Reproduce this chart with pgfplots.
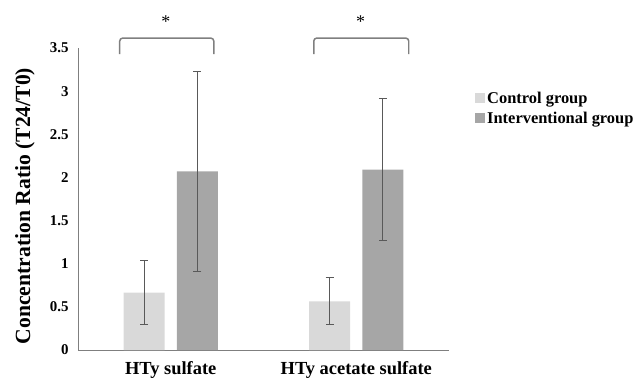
\documentclass[border=0pt]{standalone}
\usepackage{fontspec}
\setmainfont{Liberation Serif}
\usepackage{pgfplots}
\pgfplotsset{compat=1.18}
\definecolor{ctrl}{HTML}{D9D9D9}
\definecolor{intv}{HTML}{A6A6A6}
\definecolor{axisgray}{HTML}{7F7F7F}
\definecolor{errgray}{HTML}{595959}
\begin{document}
\begin{tikzpicture}
\path[use as bounding box] (0,0) rectangle (638bp,381bp);
\begin{axis}[
  at={(78bp,31bp)}, anchor=south west,
  scale only axis, width=371bp, height=302bp,
  xmin=-0.5, xmax=1.5, ymin=0, ymax=3.5,
  axis x line*=bottom, axis y line*=left,
  axis line style={axisgray, line width=1pt},
  axis line style={-},
  xtick={0,1}, xticklabels={HTy sulfate, HTy acetate sulfate},
  ytick={0,0.5,...,3.5},
  major tick length=0pt,
  /pgf/number format/assume math mode=true,
  yticklabel style={font=\fontsize{15}{15}\selectfont\bfseries, xshift=-6bp},
  xticklabel style={font=\fontsize{18.5}{18.5}\selectfont\bfseries, yshift=-8bp},
  ylabel={Concentration Ratio (T24/T0)},
  ylabel style={font=\fontsize{21.7}{21.7}\selectfont\bfseries, at={(axis description cs:-0.143,0.477)}, anchor=center},
  clip=false,
  legend style={at={(axis description cs:1.0701,0.862)}, anchor=north west, draw=none, fill=none, inner sep=0pt,
    font=\fontsize{16.5}{16.5}\selectfont\bfseries, row sep=3bp,
    legend cell align=left},
  legend image code/.code={\fill[#1] (0bp,-5bp) rectangle (10bp,5bp);},
  error bars/error bar style={errgray, line width=1pt},
  error bars/error mark options={rotate=90, mark size=4bp, errgray, line width=1pt},
]
\addplot[ybar, bar width=41bp, bar shift=0pt, fill=ctrl, draw=none,
  error bars/.cd, y dir=both, y explicit]
  coordinates {(-0.1429,0.664) +- (0,0.371) (0.8571,0.564) +- (0,0.274)};
\addlegendentry{Control group}
\addplot[ybar, bar width=41bp, bar shift=0pt, fill=intv, draw=none,
  error bars/.cd, y dir=both, y explicit]
  coordinates {(0.1429,2.07) +- (0,1.163) (1.1429,2.09) +- (0,0.82)};
\addlegendentry{Interventional group}
\draw[axisgray, line width=1.5pt, rounded corners=3bp]
  (axis cs:-0.275,3.43) -- (axis cs:-0.275,3.615) -- (axis cs:0.232,3.615) -- (axis cs:0.232,3.43);
\draw[axisgray, line width=1.5pt, rounded corners=3bp]
  (axis cs:0.771,3.43) -- (axis cs:0.771,3.615) -- (axis cs:1.283,3.615) -- (axis cs:1.283,3.43);
\node[font=\fontsize{18}{18}\selectfont] at (axis cs:-0.027,3.81) {*};
\node[font=\fontsize{18}{18}\selectfont] at (axis cs:1.024,3.81) {*};
\end{axis}
\end{tikzpicture}
\end{document}
